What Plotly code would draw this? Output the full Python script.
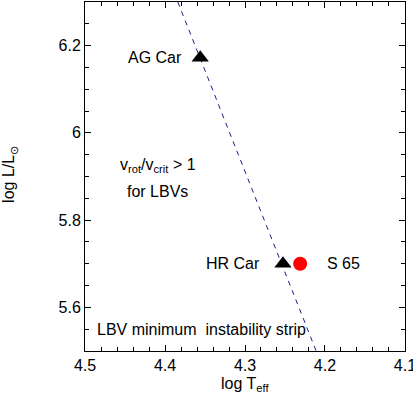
import plotly.graph_objects as go

# data
star_names = ["AG Car", "HR Car"]
star_logT = [4.356, 4.2525]
star_logL = [6.172, 5.70]
s65_name = ["S 65"]
s65_logT = [4.231]
s65_logL = [5.70]
strip_logT = [4.384, 4.211]
strip_logL = [6.30, 5.50]
x_ticks = [4.5, 4.4, 4.3, 4.2, 4.1]
y_ticks = [5.6, 5.8, 6.0, 6.2]
y_tick_text = ["5.6", "5.8", "6", "6.2"]

FONT = "Liberation Sans, Arial, sans-serif"
FS = 16

fig = go.Figure()
fig.add_trace(go.Scatter(x=strip_logT, y=strip_logL, mode="lines",
                         line=dict(color="#1c1c8a", width=1, dash="5px,5px"),
                         showlegend=False, hoverinfo="skip"))
fig.add_trace(go.Scatter(x=star_logT, y=star_logL, mode="markers",
                         marker=dict(symbol="triangle-up", size=15, color="black"),
                         showlegend=False))
fig.add_trace(go.Scatter(x=s65_logT, y=s65_logL, mode="markers",
                         marker=dict(symbol="circle", size=14, color="#ff0000"),
                         showlegend=False))

annots = [
    dict(x=4.376, y=6.172, text="AG Car", xanchor="right", yanchor="middle"),
    dict(x=4.279, y=5.70, text="HR Car", xanchor="right", yanchor="middle"),
    dict(x=4.200, y=5.70, text="S 65", xanchor="left", yanchor="middle"),
    dict(x=4.409, y=5.925, text="v<sub>rot</sub>/v<sub>crit</sub> &gt; 1", xanchor="center", yanchor="middle"),
    dict(x=4.409, y=5.866, text="for LBVs", xanchor="center", yanchor="middle"),
    dict(x=4.4875, y=5.55, text="LBV minimum  instability strip", xanchor="left", yanchor="middle"),
]
for a in annots:
    fig.add_annotation(xref="x", yref="y", showarrow=False,
                       font=dict(family=FONT, size=FS, color="black"), **a)

# axis titles
fig.add_annotation(xref="paper", yref="paper", x=0.5, y=-0.0974, text="log T<sub>eff</sub>",
                   showarrow=False, xanchor="center", yanchor="middle",
                   font=dict(family=FONT, size=FS, color="black"))
fig.add_annotation(xref="paper", yref="paper", x=-0.234, y=0.505, text="log L/L<sub>⊙</sub>",
                   showarrow=False, xanchor="center", yanchor="middle", textangle=-90,
                   font=dict(family=FONT, size=FS, color="black"))

axis_common = dict(showgrid=False, zeroline=False, showline=True, linecolor="black",
                   linewidth=1, mirror="ticks", ticks="inside", ticklen=6, tickwidth=1,
                   tickcolor="black", automargin=False, ticklabeloverflow="allow",
                   tickfont=dict(family=FONT, size=FS, color="black"))

fig.update_xaxes(range=[4.5001, 4.0999], tickvals=x_ticks, ticktext=[str(v) for v in x_ticks],
                 minor=dict(dtick=0.02, ticklen=4, ticks="inside", tickcolor="black", tick0=4.1),
                 **axis_common)
fig.update_yaxes(range=[5.5, 6.3], tickvals=y_ticks, ticktext=y_tick_text,
                 minor=dict(dtick=0.05, ticklen=4, ticks="inside", tickcolor="black", tick0=5.5),
                 **axis_common)

fig.update_layout(width=413, height=397, margin=dict(l=85, r=8, t=2, b=46),
                  paper_bgcolor="white", plot_bgcolor="white", showlegend=False)

fig.write_html("out.html", config={"displayModeBar": False},
               post_script="document.body.style.margin='0';document.body.style.overflow='hidden';")
